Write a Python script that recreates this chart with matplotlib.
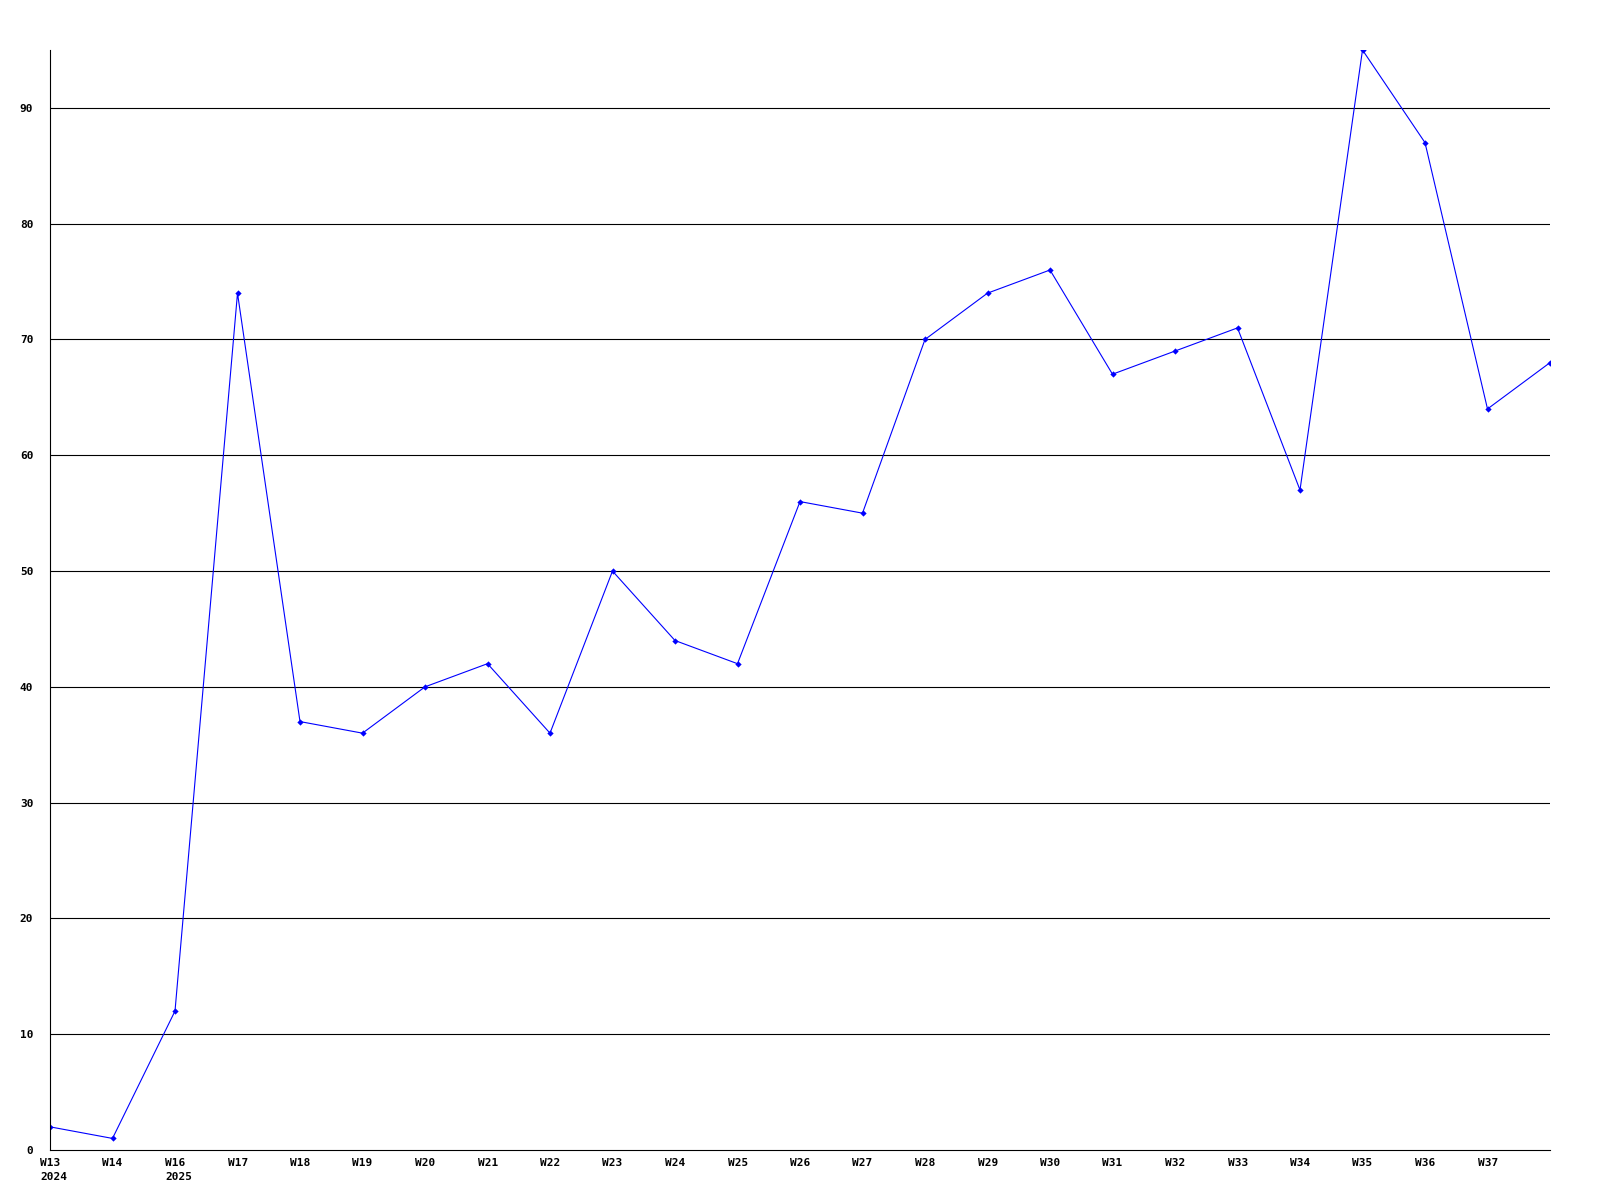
import matplotlib.pyplot as plt
import matplotlib.transforms as mtransforms

# weekly values, last point (W38) has no label on the axis
weeks = ['W13', 'W14', 'W16', 'W17', 'W18', 'W19', 'W20', 'W21', 'W22', 'W23',
         'W24', 'W25', 'W26', 'W27', 'W28', 'W29', 'W30', 'W31', 'W32', 'W33',
         'W34', 'W35', 'W36', 'W37', '']
years = ['2024', '', '2025'] + [''] * 22
values = [2, 1, 12, 74, 37, 36, 40, 42, 36, 50,
          44, 42, 56, 55, 70, 74, 76, 67, 69, 71,
          57, 95, 87, 64, 68]
yticks = [0, 10, 20, 30, 40, 50, 60, 70, 80, 90]

fig = plt.figure(figsize=(16, 12), dpi=100)
ax = fig.add_axes([50 / 1600, 50 / 1200, 1500 / 1600, 1100 / 1200])

xs = list(range(len(values)))
ax.plot(xs, values, color='#0000ff', linewidth=0.8, marker='D',
        markersize=3.2, markerfacecolor='#0000ff', markeredgewidth=0)

for y in yticks[1:]:
    ax.axhline(y, color='black', linewidth=0.8, zorder=0)

ax.set_xlim(0, len(values) - 1)
ax.set_ylim(0, max(values))

for side in ['top', 'right']:
    ax.spines[side].set_visible(False)
for side in ['left', 'bottom']:
    ax.spines[side].set_linewidth(0.8)
    ax.spines[side].set_color('black')

font = dict(family='DejaVu Sans Mono', fontweight='bold', fontsize=8)

ax.set_yticks(yticks)
ax.set_yticklabels([str(v) for v in yticks], **font)
ax.tick_params(axis='y', length=0, pad=12)

ax.set_xticks([])
offset = mtransforms.ScaledTranslation(-10 / 100, -8 / 100, fig.dpi_scale_trans)
for i, (w, yr) in enumerate(zip(weeks, years)):
    if not w:
        continue
    label = w if not yr else w + '\n' + yr
    ax.text(i, 0, label, transform=ax.get_xaxis_transform() + offset,
            ha='left', va='top', linespacing=1.5, **font)

fig.savefig('out.png', dpi=100)
